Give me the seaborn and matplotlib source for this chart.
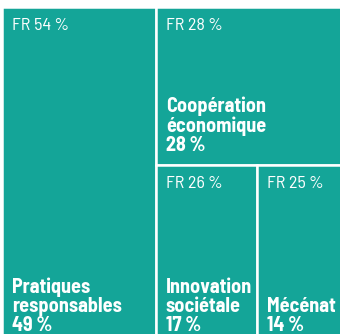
import matplotlib
matplotlib.use("Agg")
import matplotlib.pyplot as plt
import matplotlib.patches as mpatches
import seaborn as sns

# Data
categories = ["Pratiques\nresponsables", "Coopération\néconomique", "Innovation\nsociétale", "Mécénat"]
values = [49, 28, 17, 14]
fr_values = [54, 28, 26, 25]

sns.set_theme(style="white")
plt.rcParams['font.family'] = ['Barlow Semi Condensed', 'DejaVu Sans']
plt.rcParams['font.stretch'] = 'condensed'

teal = "#14a598"


def slice_layout(vals, x, y, w, h, vertical=True):
    # peel off the first item, alternating split direction
    boxes = []
    for i, v in enumerate(vals):
        rest = sum(vals[i:])
        if i == len(vals) - 1:
            boxes.append((x, y, w, h))
            break
        frac = v / rest
        if vertical:
            boxes.append((x, y, w * frac, h))
            x, w = x + w * frac, w * (1 - frac)
        else:
            boxes.append((x, y, w, h * frac))
            y, h = y + h * frac, h * (1 - frac)
        vertical = not vertical
    return boxes


fig = plt.figure(figsize=(3.4, 3.34), dpi=100)
ax = fig.add_axes([0, 0, 1, 1])
ax.set_xlim(0, 340)
ax.set_ylim(334, 0)
ax.axis('off')

X0, Y0, W, H = 1.75, 6.75, 339.5, 333.4
boxes = slice_layout(values, X0, Y0, W, H)

for (bx, by, bw, bh), cat, v, fr in zip(boxes, categories, values, fr_values):
    ax.add_patch(mpatches.Rectangle((bx, by), bw, bh, facecolor=teal,
                                    edgecolor='white', linewidth=1.8))
    ax.text(bx + 10, by + 11, f"FR {fr}\u2009%", color='white', fontsize=13,
            fontweight='normal', va='top', ha='left')
    pad = 5 if by + bh >= Y0 + H - 1 else 10
    ax.text(bx + 10, by + bh - pad, f"{cat}\n{v}\u2009%", color='white',
            fontsize=14.5, fontweight='bold', va='bottom', ha='left', linespacing=1.02)

fig.savefig("out.png", dpi=100)
